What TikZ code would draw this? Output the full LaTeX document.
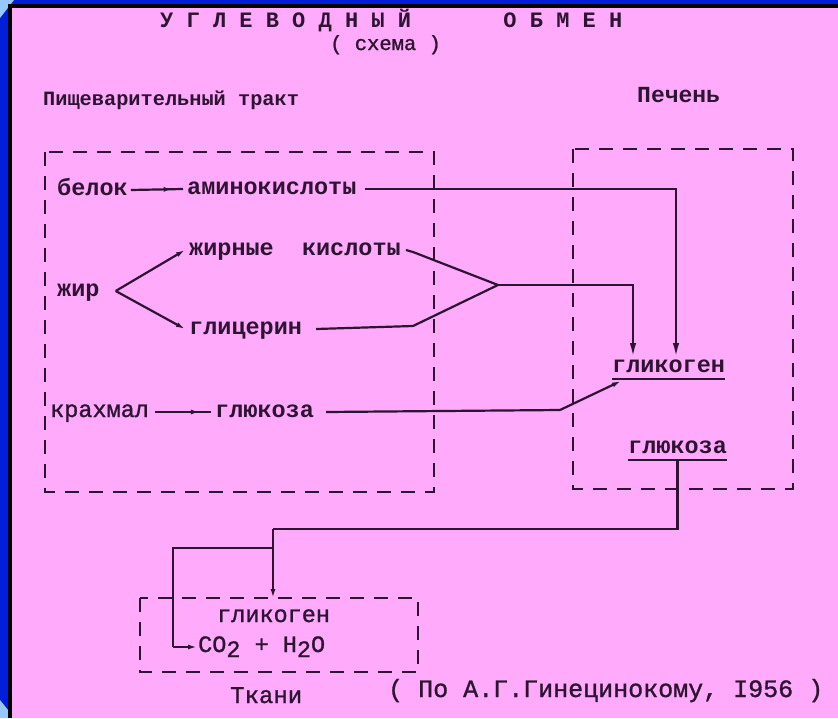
\documentclass[tikz,border=0pt]{standalone}
\usepackage{fontspec}
\usetikzlibrary{arrows.meta,decorations.markings}
\newfontfamily\tw{Liberation Mono}
\newfontfamily\twm[FakeBold=1.2]{Liberation Mono}
\definecolor{bgpink}{RGB}{255,170,250}
\definecolor{frameblue}{RGB}{0,30,215}
\definecolor{lightblue}{RGB}{150,200,255}
\definecolor{ink}{RGB}{45,20,50}
\begin{document}
\begin{tikzpicture}[x=1pt,y=-1pt,
  lbl/.style={anchor=base west,inner sep=0pt,text height=10pt,text depth=0pt,text=ink,font=\tw\bfseries\fontsize{23.5}{26}\selectfont},
  lblr/.style={lbl,font=\twm\fontsize{23.5}{26}\selectfont},
  conn/.style={draw=ink,color=ink,line width=2.2pt},
  arr/.style={conn,-{Latex[length=9pt,width=5pt]}},
  bigarr/.style={conn,-{Latex[length=14pt,width=6.5pt]}},
  midarr/.style={conn,postaction={decorate},decoration={markings,mark=at position 0.8 with {\arrow{Latex[length=9pt,width=5pt]}}}},
  uline/.style={draw=ink,line width=2pt},
  dbox/.style={draw=ink,line width=2.4pt,dash pattern=on 14pt off 10pt},
]
% background and frame
\fill[bgpink] (0,0) rectangle (838,718);
\fill[frameblue] (0,0) rectangle (838,4);
\fill[frameblue] (0,0) rectangle (8,718);
\fill[lightblue] (0,0) -- (14,0) -- (0,18) -- cycle;
\fill[lightblue] (0,700) -- (8,710) -- (8,718) -- (0,718) -- cycle;
\fill[black] (8,4) rectangle (838,8);
\fill[black] (8,4) rectangle (12,718);
\useasboundingbox (0,0) rectangle (838,718);

% titles
\node[lbl,font=\tw\bfseries\fontsize{22}{24}\selectfont] (title) at (160,27) {У Г Л Е В О Д Н Ы Й~~~~~~~О Б М Е Н};
\node[lblr,font=\twm\fontsize{20.5}{23}\selectfont] (schema) at (330,50) {( схема )};
\node[lbl,font=\tw\bfseries\fontsize{20.3}{23}\selectfont] (hdig) at (43,105) {Пищеварительный тракт};
\node[lbl,font=\tw\bfseries\fontsize{23}{26}\selectfont] (hliv) at (637,102) {Печень};

% boxes
\draw[dbox] (45,152) rectangle (434,492);
\draw[dbox] (573,149) rectangle (793,489);
\draw[dbox] (140,598) rectangle (418,672);

% digestive tract
\node[lbl] (belok) at (57,195) {белок};
\node[lbl] (amino) at (187,194) {аминокислоты};
\node[lbl] (fatac) at (189,255) {жирные~~кислоты};
\node[lbl] (zhir) at (57,296) {жир};
\node[lbl] (glycer) at (189,334) {глицерин};
\node[lblr] (krah) at (50,417) {крахмал};
\node[lbl] (gluc1) at (215,417) {глюкоза};

% liver
\node[lbl] (glyk) at (612,372) {гликоген};
\draw[uline] ([yshift=-7pt]glyk.south west) -- ([yshift=-7pt]glyk.south east);
\node[lbl] (gluc2) at (628,453) {глюкоза};
\draw[uline] ([yshift=-7pt]gluc2.south west) -- ([yshift=-7pt]gluc2.south east);

% tissues
\node[lblr] (tglyk) at (217,622) {гликоген};
\node[lblr] (co2) at (198,652) {CO\raisebox{-5pt}{2} + H\raisebox{-5pt}{2}O};
\node[lblr,font=\twm\fontsize{24}{26}\selectfont] (tkani) at (230,703) {Ткани};
\node[lblr,font=\twm\fontsize{25}{28}\selectfont] (ref) at (388,697) {( По А.Г.Гинецинокому, I956 )};

% coordinates
\coordinate (tipA) at (633,357);
\coordinate (tipB) at (676,357);
\coordinate (k1) at (413,252);
\coordinate (k2) at (413,326);
\coordinate (fork) at (498,285);
\coordinate (k3) at (560,410);
\coordinate (tipC) at (621,381);
\coordinate (j1) at (273,529);
\coordinate (tipD) at (273,598);
\coordinate (j2) at (273,548);
\coordinate (j3) at (173,647);

% connectors
\draw[midarr] ([xshift=3pt]belok.east) -- ([xshift=-4pt]amino.west);
\draw[bigarr] ([xshift=8pt]amino.east) -| (tipB);
\draw[arr] ([xshift=16pt]zhir.east) -- ([xshift=-4pt]fatac.west);
\draw[arr] ([xshift=16pt]zhir.east) -- ([xshift=-4pt]glycer.west);
\draw[conn] ([xshift=5pt]fatac.east) -- (k1) -- (fork);
\draw[conn] ([xshift=14pt]glycer.east) -- (k2) -- (fork);
\draw[bigarr] (fork) -| (tipA);
\draw[midarr] ([xshift=6pt]krah.east) -- ([xshift=-4pt]gluc1.west);
\draw[conn] ([xshift=12pt]gluc1.east) -- (k3);
\draw[arr] (k3) -- (tipC);
\draw[conn] ([yshift=-7pt]gluc2.south) |- (j1);
\draw[arr] (j1) -- (tipD);
\draw[conn] (j2) -| (j3);
\draw[arr] (j3) -- ([xshift=-1pt]co2.west);
\end{tikzpicture}
\end{document}
